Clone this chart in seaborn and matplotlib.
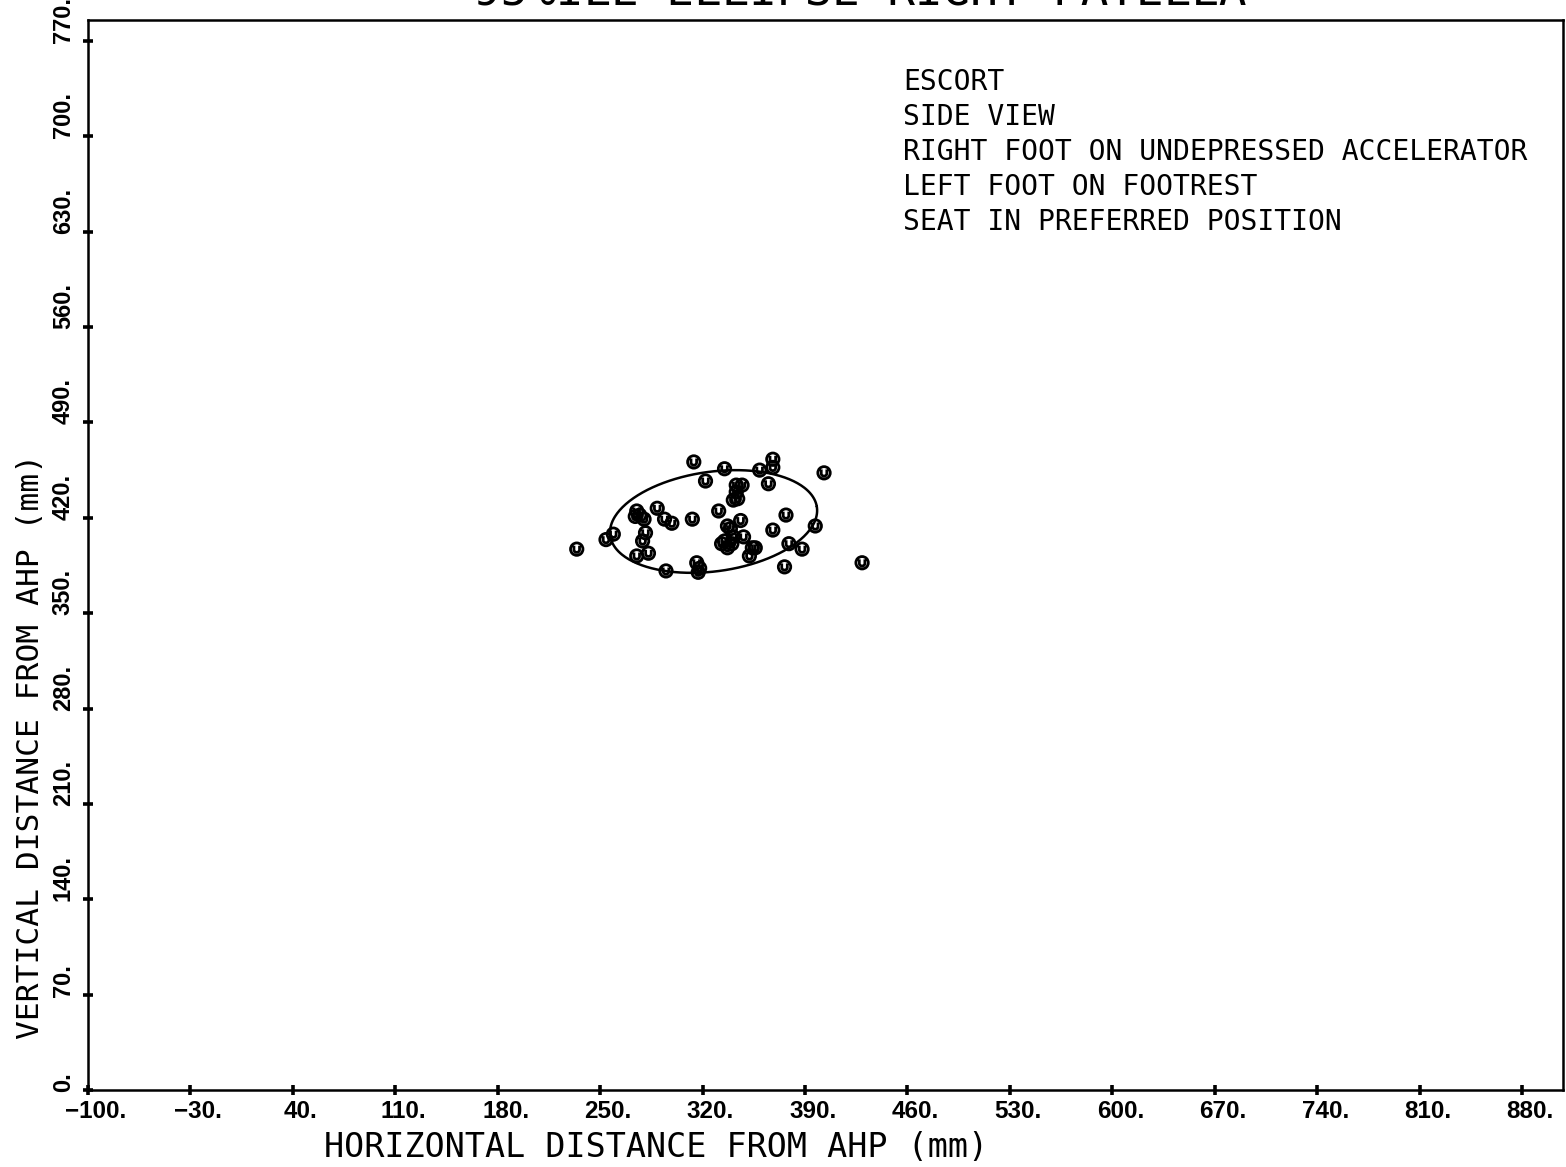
import numpy as np
import pandas as pd
import matplotlib
matplotlib.use("Agg")
import matplotlib.pyplot as plt
import seaborn as sns
from matplotlib.path import Path
from matplotlib.transforms import ScaledTranslation
from matplotlib import font_manager

# ---------------- data ----------------
title = "95%ILE ELLIPSE RIGHT PATELLA"
info_lines = ["ESCORT", "SIDE VIEW", "RIGHT FOOT ON UNDEPRESSED ACCELERATOR",
              "LEFT FOOT ON FOOTREST", "SEAT IN PREFERRED POSITION"]
x_label = "HORIZONTAL DISTANCE FROM AHP (mm)"
y_label = "VERTICAL DISTANCE FROM AHP (mm)"
x_ticks = [-100, -30, 40, 110, 180, 250, 320, 390, 460, 530, 600, 670, 740, 810, 880]
y_ticks = [0, 70, 140, 210, 280, 350, 420, 490, 560, 630, 700, 770]

x_mm = [234, 254, 259, 275, 274, 277, 280, 281, 279, 275,
        283, 289, 294, 299, 295, 313, 314, 322, 316, 318,
        317, 331, 335, 337, 339, 333, 337, 340, 335, 341,
        346, 343, 347, 343, 344, 341, 348, 354, 352, 356,
        359, 365, 368, 368, 368, 377, 379, 376, 388, 397,
        403, 429]
y_mm = [397, 404, 408, 425, 421, 422, 419, 409, 403, 392,
        394, 427, 419, 416, 381, 419, 461, 447, 387, 383,
        380, 425, 456, 414, 412, 401, 398, 401, 403, 406,
        418, 444, 444, 439, 434, 433, 406, 398, 392, 398,
        455, 445, 463, 457, 411, 422, 401, 384, 397, 414,
        453, 387]

ellipse_center = (327.5, 417.3)
ellipse_semi_axes = (71.4, 36.5)
ellipse_angle_deg = 8.8

# ---------------- style ----------------
sns.set_style("white")
plt.rcParams["font.family"] = ["DejaVu Sans Mono", "DejaVu Sans"]
available = {f.name for f in font_manager.fontManager.ttflist}
tick_family = "Liberation Sans" if "Liberation Sans" in available else "DejaVu Sans"

W, H = 1566, 1167
fig = plt.figure(figsize=(W / 100, H / 100), dpi=100)
ax = fig.add_axes([88 / W, (H - 1090) / H, (1563 - 88) / W, (1090 - 20) / H])

# ellipse
t = np.linspace(0, 2 * np.pi, 300)
phi = np.deg2rad(ellipse_angle_deg)
a, b = ellipse_semi_axes
ex = ellipse_center[0] + a * np.cos(t) * np.cos(phi) - b * np.sin(t) * np.sin(phi)
ey = ellipse_center[1] + a * np.cos(t) * np.sin(phi) + b * np.sin(t) * np.cos(phi)
sns.lineplot(x=ex, y=ey, sort=False, estimator=None, color="black", lw=1.8, ax=ax)

# marker: circle with a "U" inside
circ = Path.circle((0, 0), 1.0)
ang = np.linspace(np.pi, 2 * np.pi, 14)
u_pts = [(-0.45, 0.55)] + [(0.45 * np.cos(q), -0.1 + 0.42 * np.sin(q)) for q in ang] + [(0.45, 0.55)]
u_path = Path(u_pts)
marker_path = Path.make_compound_path(circ, u_path)

df = pd.DataFrame({"x": x_mm, "y": y_mm})
sns.scatterplot(data=df, x="x", y="y", marker=marker_path, s=80, color="black", ax=ax, zorder=3)
coll = ax.collections[-1]
coll.set_facecolor("none")
coll.set_edgecolor("black")
coll.set_linewidth(2.0)

# axes
ax.set_xlim(-100, 908)
ax.set_ylim(0, 785.4)
ax.set_xticks(x_ticks)
ax.set_xticklabels([f"{v}.".replace("-", "\u2212") for v in x_ticks])
ax.set_yticks(y_ticks)
ax.set_yticklabels([f"{v}." for v in y_ticks])
ax.set_xlabel("")
ax.set_ylabel("")
ax.tick_params(axis="both", direction="inout", length=7, width=2.6, color="black",
               bottom=True, left=True, top=False, right=False)
ax.tick_params(axis="x", pad=4)
ax.tick_params(axis="y", pad=6)
for sp in ax.spines.values():
    sp.set_linewidth(1.8)
    sp.set_color("black")

off_x = ScaledTranslation(0.08, 0, fig.dpi_scale_trans)
for lab in ax.get_xticklabels():
    lab.set_fontfamily(tick_family)
    lab.set_fontweight("bold")
    lab.set_fontsize(17.5)
    lab.set_color("black")
    lab.set_transform(lab.get_transform() + off_x)

off_y = ScaledTranslation(0, -0.02, fig.dpi_scale_trans)
for lab in ax.get_yticklabels():
    lab.set_fontfamily(tick_family)
    lab.set_fontweight("bold")
    lab.set_fontsize(17)
    lab.set_color("black")
    lab.set_rotation(90)
    lab.set_verticalalignment("bottom")
    lab.set_horizontalalignment("right")
    lab.set_transform(lab.get_transform() + off_y)

# texts
mono = ["DejaVu Sans Mono", "DejaVu Sans"]
fig.text(860 / W, 1 - 5 / H, title, ha="center", va="baseline", fontsize=33, family=mono, color="black")
fig.text(656 / W, 1 - 1157 / H, x_label, ha="center", va="baseline", fontsize=24, family=mono, color="black")
fig.text(31 / W, 1 - 746 / H, y_label, ha="center", va="center", rotation=90, fontsize=22.5,
         family=mono, color="black")
for i, line in enumerate(info_lines):
    fig.text(903 / W, 1 - (90 + 35 * i) / H, line, ha="left", va="baseline", fontsize=20.2,
             family=mono, color="black")

fig.savefig("out.png", dpi=100)
